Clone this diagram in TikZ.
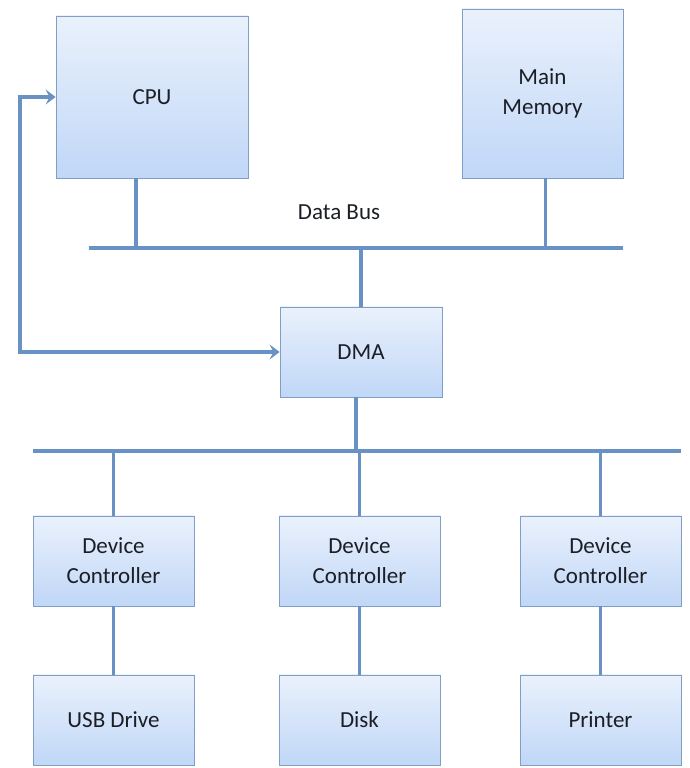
\documentclass[tikz,border=0pt]{standalone}
\usepackage{fontspec}
\setmainfont{Carlito}
\usepackage{tikz}
\usetikzlibrary{arrows.meta,shadows,calc}

\definecolor{busblue}{RGB}{104,146,196}
\definecolor{boxedge}{RGB}{128,158,198}
\definecolor{boxtop}{RGB}{234,241,252}
\definecolor{boxbot}{RGB}{192,215,247}
\definecolor{inktext}{RGB}{28,30,38}

\begin{document}
\begin{tikzpicture}[x=1pt,y=1pt,
    unit/.style={draw=boxedge,line width=0.8pt,top color=boxtop,bottom color=boxbot,
        drop shadow={opacity=0.25,shadow xshift=1pt,shadow yshift=-1.5pt},
        align=center,text=inktext,font=\fontsize{23}{30}\selectfont,inner sep=0pt},
    link/.style={draw=busblue,line width=3.5pt},
    buslink/.style={draw=busblue,line width=4pt},
    ctrl/.style={{Stealth[length=10pt,width=15pt,inset=4pt]}-{Stealth[length=10pt,width=15pt,inset=4pt]},line join=miter}]
    \useasboundingbox (0,0) rectangle (690,768);
    \node[unit,minimum width=192pt,minimum height=162pt] (cpu) at (152,671) {CPU};
    \node[unit,minimum width=161pt,minimum height=169pt] (mem) at (542.5,674.5) {Main\\Memory};
    \node[unit,minimum width=162pt,minimum height=90pt] (dma) at (361,416) {DMA};
    \node[unit,minimum width=161pt,minimum height=90pt] (dc1) at (113.5,207) {Device\\Controller};
    \node[unit,minimum width=161pt,minimum height=90pt] (dc2) at (359.5,207) {Device\\Controller};
    \node[unit,minimum width=161pt,minimum height=90pt] (dc3) at (600.5,207) {Device\\Controller};
    \node[unit,minimum width=161pt,minimum height=90pt] (usb) at (113.5,48) {USB Drive};
    \node[unit,minimum width=161pt,minimum height=90pt] (disk) at (359.5,48) {Disk};
    \node[unit,minimum width=161pt,minimum height=90pt] (prn) at (600.5,48) {Printer};
    \node[text=inktext,font=\fontsize{23}{28}\selectfont] (dblabel) at (339,556) {Data Bus};

    \coordinate (dbL) at (89,520);
    \coordinate (dbR) at (623,520);
    \coordinate (ioL) at (33,317);
    \coordinate (ioR) at (681,317);
    \coordinate (loop) at (20,416);

    \draw[buslink] (dbL) -- (dbR);
    \draw[buslink] (ioL) -- (ioR);
    \draw[link] ([xshift=-16pt]cpu.south) -- ([xshift=-16pt]cpu.south |- dbL);
    \draw[link] ([xshift=3pt]mem.south) -- ([xshift=3pt]mem.south |- dbL);
    \draw[link] (dma.north) -- (dma.north |- dbL);
    \draw[link] ([xshift=-5pt]dma.south) -- ([xshift=-5pt]dma.south |- ioL);
    \foreach \dc/\dev in {dc1/usb,dc2/disk,dc3/prn}{
        \draw[link] (\dc.north) -- (\dc.north |- ioL);
        \draw[link] (\dc.south) -- (\dev.north);
    }
    \draw[link,ctrl] (cpu.west) -- (cpu.west -| loop) -- (loop |- dma.west) -- (dma.west);
\end{tikzpicture}
\end{document}
